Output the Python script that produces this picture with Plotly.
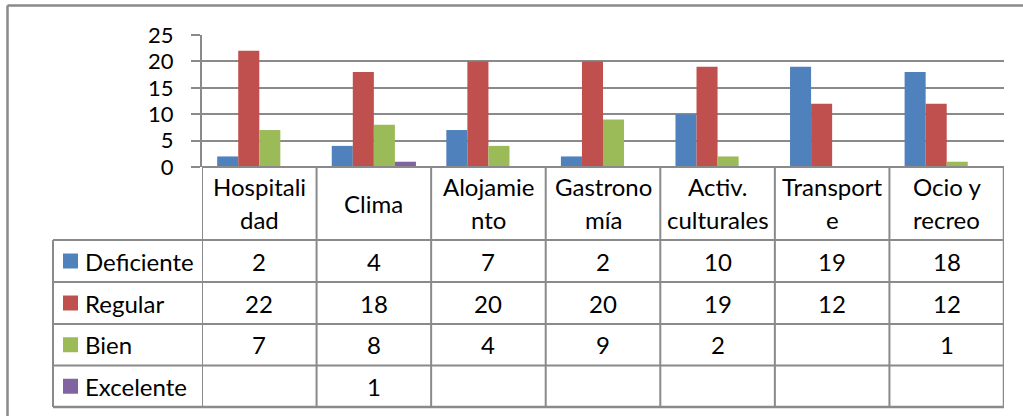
import plotly.graph_objects as go

# Categories and rating counts per category
categories = ["Hospitalidad", "Clima", "Alojamiento", "Gastronomía",
              "Activ. culturales", "Transporte", "Ocio y recreo"]
header_lines = [["Hospitali", "dad"], ["Clima"], ["Alojamie", "nto"],
                ["Gastrono", "mía"], ["Activ.", "culturales"],
                ["Transport", "e"], ["Ocio y", "recreo"]]
series_names = ["Deficiente", "Regular", "Bien", "Excelente"]
deficiente = [2, 4, 7, 2, 10, 19, 18]
regular = [22, 18, 20, 20, 19, 12, 12]
bien = [7, 8, 4, 9, 2, None, 1]
excelente = [None, 1, None, None, None, None, None]
y_ticks = [0, 5, 10, 15, 20, 25]

series_values = [deficiente, regular, bien, excelente]
colors = ["#4F81BD", "#C0504D", "#9BBB59", "#8064A2"]

W, H = 1023, 416
L, R, T, B = 202, 19, 35, 249
PW = W - L - R
PH = H - T - B
GRID = "#8A8A8A"
FONT = "Lato"
TXT = 24


def px_x(px):
    return (px - L) / PW


def px_y(py):
    return (H - B - py) / PH


fig = go.Figure()
for name, vals, col in zip(series_names, series_values, colors):
    fig.add_trace(go.Bar(
        x=list(range(len(categories))), y=vals, name=name,
        marker=dict(color=col, line=dict(width=0)),
        showlegend=False,
    ))

shapes = []
annotations = []

# outer frame (top and left edges)
shapes.append(dict(type="line", xref="paper", yref="paper",
                   x0=px_x(7.5), x1=px_x(1030), y0=px_y(5.5), y1=px_y(5.5),
                   line=dict(color=GRID, width=2.5)))
shapes.append(dict(type="line", xref="paper", yref="paper",
                   x0=px_x(7.5), x1=px_x(7.5), y0=px_y(5.5), y1=px_y(420),
                   line=dict(color=GRID, width=2.5)))

# data table rows below the axis
header_top, header_bottom = 167, 240
row_edges = [240, 282, 324, 365.5, 407]
legend_left = 53
n = len(categories)

# horizontal rules
shapes.append(dict(type="line", xref="x", yref="paper", x0=-0.5, x1=n - 0.5,
                   y0=px_y(header_top), y1=px_y(header_top),
                   line=dict(color=GRID, width=2)))
for ry in row_edges:
    shapes.append(dict(type="line", xref="paper", yref="paper",
                       x0=px_x(legend_left), x1=1,
                       y0=px_y(ry), y1=px_y(ry),
                       line=dict(color=GRID, width=2.5 if ry == row_edges[-1] else 2)))
# vertical rules
shapes.append(dict(type="line", xref="paper", yref="paper",
                   x0=px_x(legend_left), x1=px_x(legend_left),
                   y0=px_y(row_edges[0]), y1=px_y(row_edges[-1]),
                   line=dict(color=GRID, width=2)))
for i in range(n + 1):
    xb = i - 0.5
    shapes.append(dict(type="line", xref="x", yref="paper", x0=xb, x1=xb,
                       y0=px_y(header_top), y1=px_y(row_edges[-1]),
                       line=dict(color=GRID, width=2.5 if i == n else 2)))

# category headers
for i, lines in enumerate(header_lines):
    centers = [203.5] if len(lines) == 1 else [186, 219.5]
    for txt, cy in zip(lines, centers):
        annotations.append(dict(x=i, y=px_y(cy), xref="x", yref="paper",
                                text=txt, showarrow=False,
                                xanchor="center", yanchor="middle",
                                font=dict(family=FONT, size=TXT, color="black")))

# legend keys, names and values
for r, (name, vals, col) in enumerate(zip(series_names, series_values, colors)):
    cy = (row_edges[r] + row_edges[r + 1]) / 2
    shapes.append(dict(type="rect", xref="paper", yref="paper",
                       x0=px_x(63), x1=px_x(78),
                       y0=px_y(cy - 7.5), y1=px_y(cy + 7.5),
                       fillcolor=col, line=dict(width=0)))
    annotations.append(dict(x=px_x(83), y=px_y(cy), xref="paper", yref="paper",
                            text=name, showarrow=False,
                            xanchor="left", yanchor="middle",
                            font=dict(family=FONT, size=TXT, color="black")))
    for i, v in enumerate(vals):
        if v is None:
            continue
        annotations.append(dict(x=i, y=px_y(cy), xref="x", yref="paper",
                                text=str(v), showarrow=False,
                                xanchor="center", yanchor="middle",
                                font=dict(family=FONT, size=TXT, color="black")))

fig.update_layout(
    width=W, height=H,
    margin=dict(l=L, r=R, t=T, b=B, pad=0),
    paper_bgcolor="white", plot_bgcolor="white",
    barmode="group", bargap=0.265, bargroupgap=0,
    shapes=shapes, annotations=annotations,
    xaxis=dict(range=[-0.5, n - 0.5], showticklabels=False, showgrid=False,
               zeroline=False, showline=False, ticks="", fixedrange=True),
    yaxis=dict(range=[0, 25], tickvals=y_ticks, showgrid=True,
               gridcolor=GRID, gridwidth=2, zeroline=True,
               zerolinecolor=GRID, zerolinewidth=2,
               showline=True, linecolor=GRID, linewidth=2,
               ticks="outside", ticklen=9, tickcolor=GRID, tickwidth=2,
               ticklabelstandoff=13,
               tickfont=dict(family=FONT, size=22, color="black")),
)

fig.write_html("out.html")
